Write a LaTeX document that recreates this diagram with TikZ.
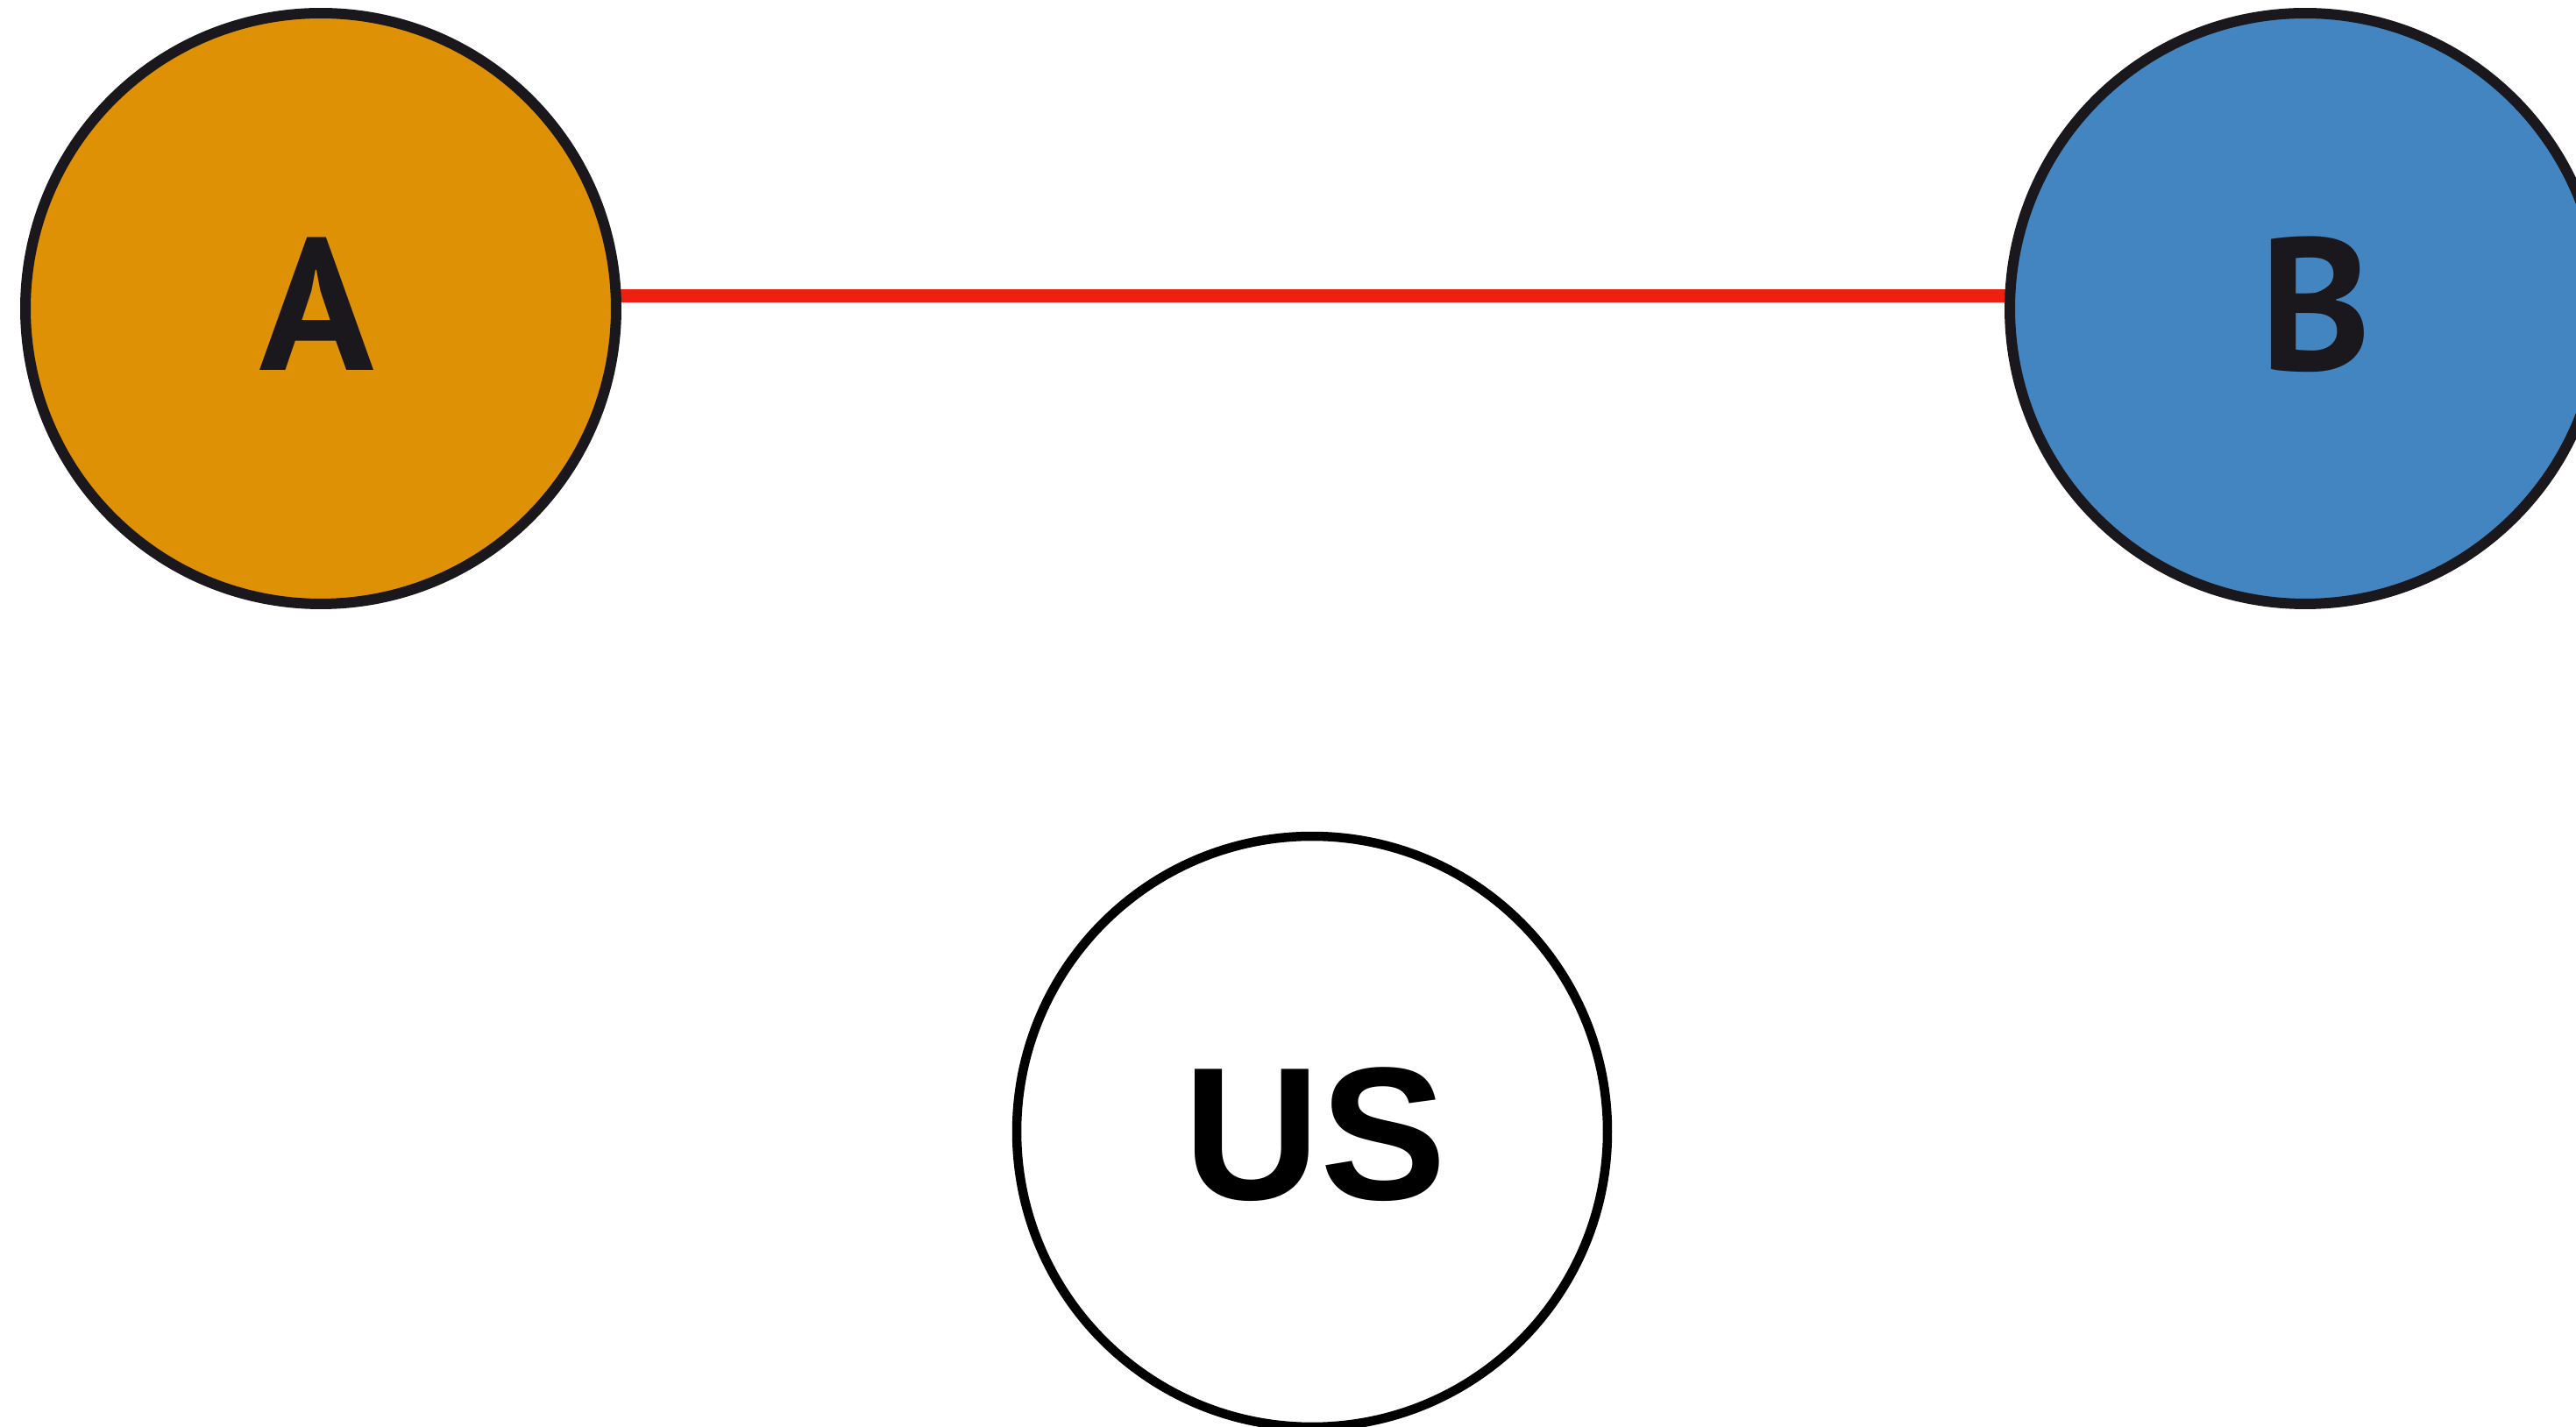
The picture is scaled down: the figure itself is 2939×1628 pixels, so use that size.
\documentclass[tikz,border=0pt]{standalone}
\usepackage{fontspec}
\newfontfamily\abfont{PT Sans}
\newfontfamily\usfont{Liberation Sans}
\usetikzlibrary{backgrounds}
\definecolor{aorange}{HTML}{DF9106}
\definecolor{bblue}{HTML}{4285C0}
\definecolor{ringdark}{HTML}{1B181D}
\definecolor{linkred}{HTML}{EE2011}
\begin{document}
\begin{tikzpicture}[x=0.1pt,y=-0.1pt,
  bubble/.style={circle,inner sep=0pt,minimum size=67.4pt,line width=1.2pt,draw=ringdark},
  abtext/.style={font=\abfont\bfseries\fontsize{21.5}{21.5}\selectfont,text=ringdark},
  ustext/.style={font=\usfont\bfseries\fontsize{21.6}{21.6}\selectfont,text=black},
  link/.style={draw=linkred,line width=1.5pt}]
\useasboundingbox (0,0) rectangle (2939,1628);
\node[bubble,fill=aorange] (A) at (366,352) {};
\node[bubble,fill=bblue] (B) at (2630,352) {};
\node[bubble,draw=black,line width=1.05pt,fill=white] (US) at (1497,1291) {};
\node[abtext] (Alab) at (362,347) {A};
\node[abtext] (Blab) at (2642,347) {B};
\node[ustext] (USlab) at (1501,1294) {US};
\begin{scope}[on background layer]
\draw[link] ([yshift=1.4pt]A.center) -- ([yshift=1.4pt]B.center);
\end{scope}
\end{tikzpicture}
\end{document}
